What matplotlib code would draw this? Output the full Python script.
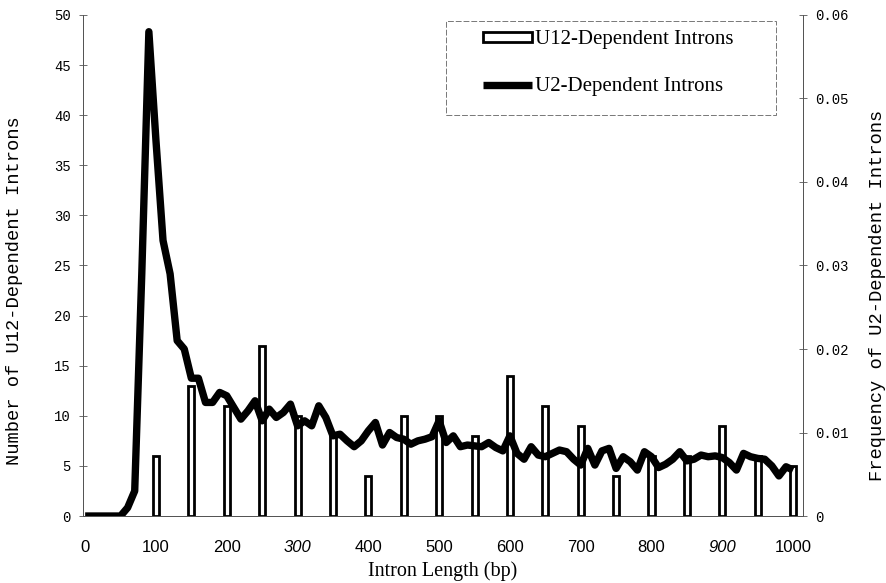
#!/usr/bin/env python3
"""U12- vs U2-dependent intron length distribution (bars + frequency line)."""

import matplotlib

matplotlib.use("Agg")
import matplotlib.pyplot as plt
from matplotlib.patches import Rectangle

# U12-dependent introns: counts per 50 bp length bin
u12_lengths = [100, 150, 200, 250, 300, 350, 400, 450, 500, 550,
               600, 650, 700, 750, 800, 850, 900, 950, 1000]
u12_counts = [6, 13, 11, 17, 10, 8, 4, 10, 10, 8,
              14, 11, 9, 4, 6, 6, 9, 6, 5]

# U2-dependent introns: frequency per 10 bp length bin
u2_lengths = list(range(0, 1001, 10))
u2_freq = [
    0.0, 0.0, 0.0, 0.0, 0.0, 0.0, 0.001, 0.003, 0.029, 0.058,       # 0-90
    0.045, 0.033, 0.029, 0.021, 0.020, 0.0165, 0.0165, 0.0136, 0.0136, 0.0148,  # 100-190
    0.0144, 0.0130, 0.0116, 0.0126, 0.0138, 0.0114, 0.0128, 0.0118, 0.0124, 0.0134,  # 200-290
    0.0108, 0.0114, 0.0108, 0.0132, 0.0118, 0.0096, 0.0098, 0.0090, 0.0083, 0.0090,  # 300-390
    0.0102, 0.0112, 0.0085, 0.0100, 0.0094, 0.0092, 0.0086, 0.0090, 0.0092, 0.0095,  # 400-490
    0.0114, 0.0088, 0.0096, 0.0083, 0.0085, 0.0084, 0.0083, 0.0088, 0.0082, 0.0078,  # 500-590
    0.0096, 0.0075, 0.0068, 0.0083, 0.0073, 0.0071, 0.0075, 0.0079, 0.0077, 0.0068,  # 600-690
    0.0061, 0.0081, 0.0061, 0.0078, 0.0081, 0.0057, 0.0071, 0.0065, 0.0055, 0.0077,  # 700-790
    0.0071, 0.0058, 0.0062, 0.0068, 0.0077, 0.0066, 0.0068, 0.0073, 0.0071, 0.0072,  # 800-890
    0.0070, 0.0064, 0.0055, 0.0075, 0.0071, 0.0069, 0.0068, 0.0060, 0.0048, 0.0059,  # 900-990
    0.0055,                                                          # 1000
]

x_ticks = list(range(0, 1001, 100))
left_ticks = list(range(0, 51, 5))
right_ticks = [0, 0.01, 0.02, 0.03, 0.04, 0.05, 0.06]
right_tick_labels = ["0", "0.01", "0.02", "0.03", "0.04", "0.05", "0.06"]

MONO = ["Liberation Mono", "DejaVu Sans Mono"]
SERIF = ["Liberation Serif", "DejaVu Serif"]
NARROW = ["Liberation Sans Narrow", "Liberation Sans", "DejaVu Sans"]
AXIS_GREY = "#555555"

fig = plt.figure(figsize=(8.87, 5.83), dpi=100)
ax = fig.add_axes([0.0936, 0.1149, 0.8117, 0.8594])
ax2 = ax.twinx()

bars = ax.bar(u12_lengths, u12_counts, width=8.5, color="white",
              edgecolor="black", linewidth=2.0, zorder=2)
(line,) = ax2.plot(u2_lengths, u2_freq, color="black", linewidth=5.3,
                   solid_joinstyle="round", solid_capstyle="butt")

ax.set_xlim(-3, 1014)
ax.set_ylim(0, 50)
ax2.set_ylim(0, 0.06)

ax.set_xticks(x_ticks)
ax.set_xticklabels([str(t) for t in x_ticks], family=NARROW, fontsize=12)
for lbl in ax.get_xticklabels():
    if lbl.get_text() in ("300", "900"):
        lbl.set_style("italic")
ax.tick_params(axis="x", length=0, pad=17)

ax.set_yticks(left_ticks)
ax.set_yticklabels([str(t) for t in left_ticks], family=MONO, fontsize=10)
ax.tick_params(axis="y", direction="inout", length=6, width=0.6,
               color=AXIS_GREY, pad=6)
ax2.set_yticks(right_ticks)
ax2.set_yticklabels(right_tick_labels, family=MONO, fontsize=10)
ax2.tick_params(axis="y", direction="inout", length=6, width=0.6,
                color=AXIS_GREY, pad=6)

for a in (ax, ax2):
    a.spines["top"].set_visible(False)
    for side in ("left", "right", "bottom"):
        a.spines[side].set_linewidth(0.7)
        a.spines[side].set_color(AXIS_GREY)

ax.set_xlabel("Intron Length (bp)", family=SERIF, fontsize=14.5)
ax.xaxis.set_label_coords(0.5, -0.09)
ax.set_ylabel("Number of U12-Dependent Introns", family=MONO, fontsize=13.5)
ax.yaxis.set_label_coords(-0.084, 0.45)
ax2.set_ylabel("Frequency of U2-Dependent Introns", family=MONO, fontsize=13.5,
               rotation=90)
ax2.yaxis.set_label_coords(1.092, 0.44)

# legend box drawn separately so its padding can match the original
ax.add_patch(Rectangle((0.504, 0.800), 0.4585, 0.1886, transform=ax.transAxes,
                       fill=False, edgecolor="#777777", linewidth=0.7,
                       linestyle=(0, (6, 2)), zorder=5, clip_on=False))
ax2.legend([bars, line], ["U12-Dependent Introns", "U2-Dependent Introns"],
           loc="upper left", bbox_to_anchor=(0.555, 0.9695), frameon=False,
           borderpad=0, borderaxespad=0, handlelength=2.36, handleheight=0.4,
           handletextpad=0.15, labelspacing=1.35,
           prop={"family": SERIF, "size": 15})

fig.savefig("out.png", dpi=100)
